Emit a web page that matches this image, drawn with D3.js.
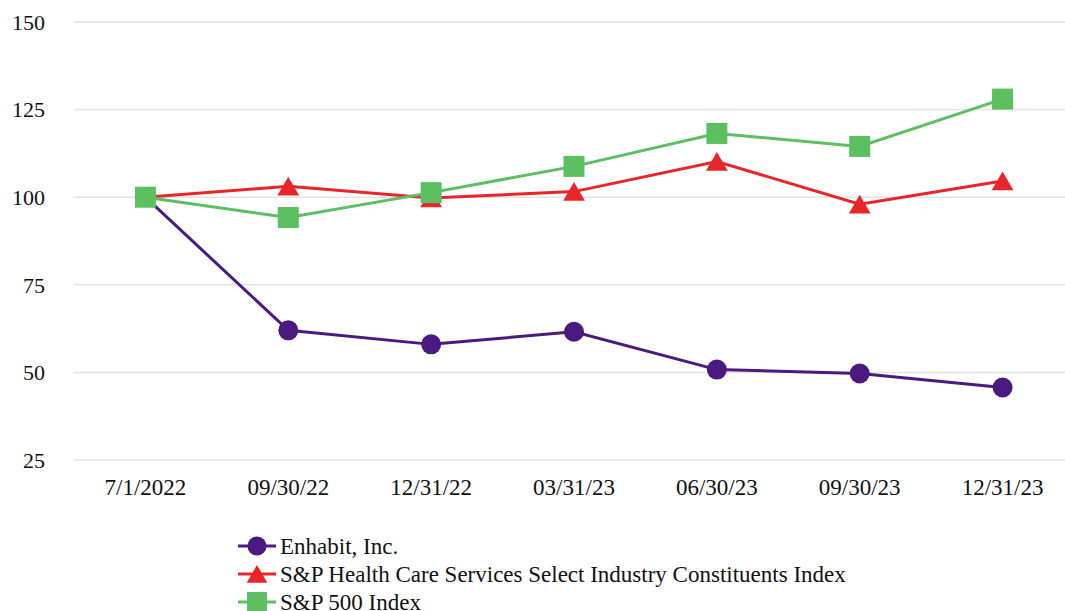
<!DOCTYPE html>
<html><head><meta charset="utf-8">
<script src="https://cdn.jsdelivr.net/npm/d3@7"></script>
<style>body{margin:0;background:#fff}svg{display:block;font-family:"Liberation Serif",serif}</style>
</head><body><svg id="c" width="1065" height="611"></svg>
<script>
const categories = ["7/1/2022","09/30/22","12/31/22","03/31/23","06/30/23","09/30/23","12/31/23"];
const enhabit = [100, 62.0, 58.0, 61.6, 50.8, 49.7, 45.7];
const hcServices = [100, 103.1, 99.8, 101.6, 110.2, 98.0, 104.6];
const sp500 = [100, 94.2, 101.3, 108.8, 118.2, 114.5, 128.0];
const yTicks = [25, 50, 75, 100, 125, 150];
const seriesNames = ["Enhabit, Inc.", "S&P Health Care Services Select Industry Constituents Index", "S&P 500 Index"];

const FONT = "Liberation Serif";
const svg = d3.select("#c");
const x = d3.scalePoint().domain(categories).range([74, 1074]).padding(0.5);
const y = d3.scaleLinear().domain([25, 150]).range([460, 22]);

svg.append("g").selectAll("line").data(yTicks).join("line")
  .attr("x1", 74).attr("x2", 1065).attr("y1", d => y(d)).attr("y2", d => y(d))
  .attr("stroke", "#e3e3e3").attr("stroke-width", 1.5);
svg.append("g").selectAll("text").data(yTicks).join("text")
  .attr("x", 45).attr("y", d => y(d)).attr("dy", "0.35em").attr("text-anchor", "end")
  .attr("font-family", FONT).attr("font-size", 22).attr("fill", "#111").text(d => d);
svg.append("g").selectAll("text").data(categories).join("text")
  .attr("x", d => x(d)).attr("y", 495).attr("text-anchor", "middle")
  .attr("font-family", FONT).attr("font-size", 23).attr("fill", "#111").text(d => d);

const series = [
  {name: seriesNames[0], values: enhabit, color: "#4a1a80", shape: "circle"},
  {name: seriesNames[1], values: hcServices, color: "#e8262a", shape: "triangle"},
  {name: seriesNames[2], values: sp500, color: "#5cbf60", shape: "square"}
];
const line = d3.line().x((d, i) => x(categories[i])).y(d => y(d));
function marker(g, shape, color, cx, cy, scale) {
  scale = scale || 1;
  if (shape === "circle") g.append("circle").attr("cx", cx).attr("cy", cy).attr("r", 10 * scale).attr("fill", color);
  else if (shape === "square") g.append("rect").attr("x", cx - 10.5 * scale).attr("y", cy - 10.5 * scale).attr("width", 21 * scale).attr("height", 21 * scale).attr("fill", color);
  else g.append("path").attr("d", d3.symbol().type(d3.symbolTriangle).size(205 * scale * scale)()).attr("transform", `translate(${cx},${cy + 3 * scale})`).attr("fill", color);
}
series.forEach(s => {
  const g = svg.append("g");
  g.append("path").datum(s.values).attr("d", line).attr("fill", "none").attr("stroke", s.color).attr("stroke-width", 3);
  s.values.forEach((v, i) => marker(g, s.shape, s.color, x(categories[i]), y(v)));
});

const lg = svg.append("g");
series.forEach((s, i) => {
  const cy = 546 + i * 28;
  lg.append("line").attr("x1", 238).attr("x2", 276).attr("y1", cy).attr("y2", cy).attr("stroke", s.color).attr("stroke-width", 3);
  marker(lg, s.shape, s.color, 257, cy, 0.95);
  lg.append("text").attr("x", 280).attr("y", cy).attr("dy", "0.35em")
    .attr("font-family", FONT).attr("font-size", 23).attr("fill", "#111").text(s.name);
});
</script></body></html>
